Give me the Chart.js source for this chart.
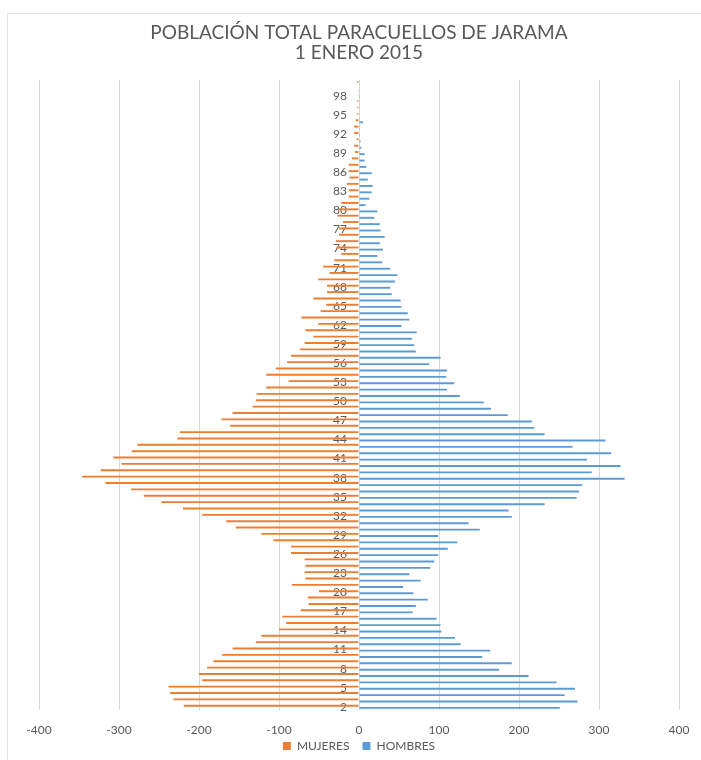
<!DOCTYPE html>
<html>
<head>
<meta charset="utf-8">
<title>Población total Paracuellos de Jarama</title>
<script src="https://cdn.jsdelivr.net/npm/chart.js@4"></script>
<style>
  body { margin: 0; background: #fff; }
  #marco { position: absolute; left: 7px; top: 13px; width: 700px; height: 760px; border: 1px solid #e4e4e4; box-sizing: border-box; }
  #grafico { position: absolute; left: 0; top: 0; width: 701px; height: 760px; }
</style>
</head>
<body>
<div id="marco"></div>
<div id="grafico"><canvas id="piramide"></canvas></div>
<script>
// edades, de abajo (2) a arriba (100)
var edades = [2, 3, 4, 5, 6, 7, 8, 9, 10, 11, 12, 13, 14, 15, 16, 17, 18, 19, 20,
  21, 22, 23, 24, 25, 26, 27, 28, 29, 30, 31, 32, 33, 34, 35, 36, 37, 38, 39, 40,
  41, 42, 43, 44, 45, 46, 47, 48, 49, 50, 51, 52, 53, 54, 55, 56, 57, 58, 59, 60,
  61, 62, 63, 64, 65, 66, 67, 68, 69, 70, 71, 72, 73, 74, 75, 76, 77, 78, 79, 80,
  81, 82, 83, 84, 85, 86, 87, 88, 89, 90, 91, 92, 93, 94, 95, 96, 97, 98, 99, 100];

// mujeres (se dibujan hacia la izquierda)
var mujeres = [219, 232, 236, 238, 196, 200, 190, 182, 171, 158, 129, 122, 100, 91, 96, 73, 63, 64, 50,
  84, 67, 68, 67, 68, 85, 85, 107, 122, 154, 166, 196, 220, 247, 269, 285, 317, 346, 323, 297,
  307, 284, 277, 227, 224, 161, 172, 158, 133, 129, 128, 116, 88, 116, 104, 90, 85, 74, 68, 57,
  67, 51, 72, 48, 41, 57, 40, 40, 51, 37, 45, 31, 22, 28, 29, 25, 25, 20, 27, 25,
  22, 13, 13, 15, 12, 13, 13, 9, 5, 6, 3, 6, 6, 4, 2, 2, 2, 1, 0, 2];

var hombres = [251, 273, 257, 270, 247, 212, 175, 191, 154, 164, 127, 120, 103, 102, 97, 67, 71, 86, 68,
  55, 77, 63, 89, 94, 99, 111, 123, 99, 151, 137, 191, 187, 232, 272, 275, 279, 332, 291, 327,
  285, 315, 267, 308, 232, 219, 216, 186, 165, 156, 126, 110, 119, 109, 110, 88, 102, 71, 69, 66,
  72, 53, 63, 61, 53, 52, 41, 39, 45, 48, 39, 29, 23, 30, 26, 32, 27, 26, 19, 23,
  8, 13, 16, 17, 11, 16, 9, 7, 7, 3, 2, 1, 1, 5, 0, 0, 0, 1, 1, 0];

var titulo = ['POBLACIÓN TOTAL PARACUELLOS DE JARAMA', '1 ENERO 2015'];
var gris = '#595959';

Chart.defaults.font.family = 'Lato, "Open Sans", sans-serif';

// la leyenda va más pegada a las etiquetas del eje x que lo que deja chart.js
var subirLeyenda = {
  id: 'subirLeyenda',
  afterLayout: function (chart) {
    chart.legend.top -= 23;
    chart.legend.bottom -= 23;
  }
};

var ctx = document.getElementById('piramide').getContext('2d');
var piramide = new Chart(ctx, {
  type: 'bar',
  data: {
    labels: edades,
    datasets: [{
      label: 'MUJERES',
      data: mujeres.map(function (v) { return -v; }),
      backgroundColor: '#ED7D31',
      categoryPercentage: 0.66,
      barPercentage: 0.9
    }, {
      label: 'HOMBRES',
      data: hombres,
      backgroundColor: '#5B9BD5',
      categoryPercentage: 0.66,
      barPercentage: 0.9
    }]
  },
  options: {
    indexAxis: 'y',
    responsive: true,
    maintainAspectRatio: false,
    animation: false,
    layout: { padding: { left: 39, right: 22, top: 12, bottom: -25 } },
    scales: {
      x: {
        min: -400,
        max: 400,
        ticks: { stepSize: 100, color: gris, font: { size: 12, lineHeight: 2 }, padding: 8 },
        grid: { color: '#d9d9d9', drawTicks: false },
        border: { display: false }
      },
      y: {
        reverse: true,
        position: { x: -15 },
        z: 1,
        grid: { display: false },
        border: { display: false },
        ticks: {
          autoSkip: false,
          color: gris,
          font: { size: 12 },
          callback: function (v, i) { return i % 3 === 0 ? edades[i] : ''; }
        }
      }
    },
    plugins: {
      title: {
        display: true,
        text: titulo,
        color: gris,
        font: { size: 19, weight: 'normal', lineHeight: 1.05 },
        padding: { top: 11, bottom: 17 }
      },
      legend: {
        position: 'bottom',
        labels: { boxWidth: 8, boxHeight: 8, color: gris, font: { size: 12 }, padding: 13 }
      },
      tooltip: { enabled: false }
    }
  },
  plugins: [subirLeyenda]
});
</script>
</body>
</html>
